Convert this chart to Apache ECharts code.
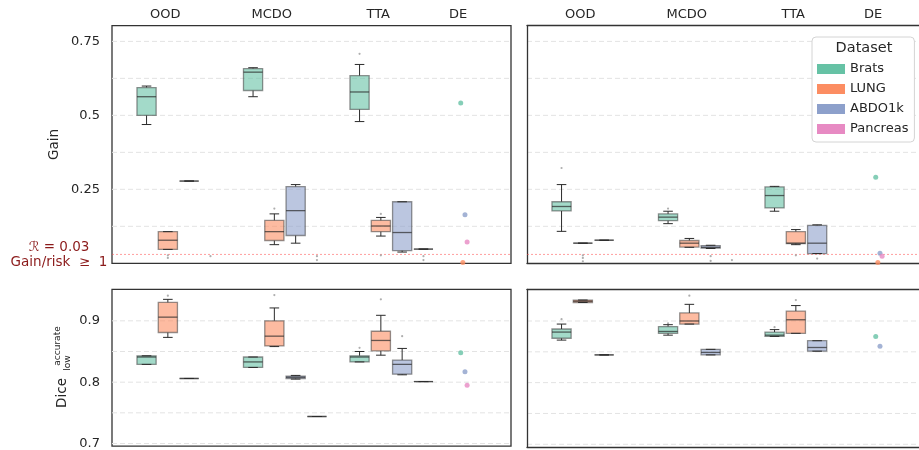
<!DOCTYPE html>
<html><head><meta charset="utf-8">
<script src="https://cdn.jsdelivr.net/npm/echarts@6/dist/echarts.min.js"></script>
<style>html,body{margin:0;padding:0;background:#fff}#c{width:919px;height:450px}</style>
</head><body><div id="c"></div><script>
// ---------- data ----------
const methods = ['OOD', 'MCDO', 'TTA', 'DE'];
const datasets = ['Brats', 'LUNG', 'ABDO1k', 'Pancreas'];
const colors = ['#66c2a5', '#fc8d62', '#8da0cb', '#e78ac3'];
const gainTicks = [0.25, 0.5, 0.75];
const diceTicks = [0.7, 0.8, 0.9];
const gainGridValues = [0.125, 0.25, 0.375, 0.5, 0.625, 0.75];
const diceGridValues = [0.7, 0.75, 0.8, 0.85, 0.9];
const riskThreshold = 0.03;

// box stats per method (OOD, MCDO, TTA): [low whisker, Q1, median, Q3, high whisker]
const gainA_Brats    = [[0.469, 0.500, 0.563, 0.594, 0.599], [0.563, 0.584, 0.646, 0.658, 0.661], [0.479, 0.520, 0.579, 0.634, 0.672]];
const gainA_LUNG     = [[0.047, 0.047, 0.078, 0.107, 0.107], [0.063, 0.077, 0.107, 0.145, 0.167], [0.092, 0.107, 0.126, 0.145, 0.155]];
const gainA_ABDO1k   = [[0.278, 0.278, 0.278, 0.278, 0.278], [0.068, 0.094, 0.178, 0.259, 0.266], [0.038, 0.043, 0.104, 0.208, 0.208]];
const gainA_Pancreas = [null, null, [0.048, 0.048, 0.048, 0.048, 0.048]];
const gainA_outliers = [
  [[2, 0.708]],
  [[0, 0.027], [0, 0.018], [1, 0.185], [2, 0.167], [2, 0.027]],
  [],
  [[0, 0.024], [1, 0.024], [1, 0.011], [2, 0.024], [2, 0.011]]
];
const gainA_DE = [0.542, 0.003, 0.164, 0.072];

const gainB_Brats    = [[0.108, 0.177, 0.192, 0.208, 0.266], [0.134, 0.144, 0.156, 0.167, 0.176], [0.176, 0.187, 0.229, 0.258, 0.260]];
const gainB_LUNG     = [[0.068, 0.068, 0.068, 0.068, 0.068], [0.054, 0.055, 0.068, 0.077, 0.084], [0.063, 0.067, 0.068, 0.107, 0.114]];
const gainB_ABDO1k   = [[0.078, 0.078, 0.078, 0.078, 0.078], [0.050, 0.051, 0.054, 0.060, 0.061], [0.033, 0.033, 0.068, 0.128, 0.130]];
const gainB_Pancreas = [null, null, null];
const gainB_outliers = [
  [[0, 0.322], [1, 0.185]],
  [[0, 0.027], [0, 0.018], [0, 0.007], [2, 0.027]],
  [[1, 0.024], [1, 0.008], [2, 0.016]],
  [[1, 0.011]]
];
const gainB_DE = [0.291, 0.003, 0.034, 0.024];

const diceA_Brats    = [[0.829, 0.829, 0.841, 0.843, 0.843], [0.824, 0.824, 0.833, 0.841, 0.841], [0.833, 0.833, 0.841, 0.843, 0.850]];
const diceA_LUNG     = [[0.873, 0.881, 0.906, 0.930, 0.935], [0.858, 0.859, 0.875, 0.900, 0.921], [0.844, 0.851, 0.868, 0.883, 0.909]];
const diceA_ABDO1k   = [[0.806, 0.806, 0.806, 0.806, 0.806], [0.805, 0.806, 0.808, 0.810, 0.811], [0.812, 0.813, 0.829, 0.836, 0.855]];
const diceA_Pancreas = [null, [0.744, 0.744, 0.744, 0.744, 0.744], [0.801, 0.801, 0.801, 0.801, 0.801]];
const diceA_outliers = [
  [[2, 0.856]],
  [[0, 0.941], [1, 0.942], [2, 0.935]],
  [[2, 0.875]],
  []
];
const diceA_DE = [0.848, null, 0.817, 0.795];

const diceB_Brats    = [[0.869, 0.872, 0.882, 0.887, 0.895], [0.877, 0.880, 0.883, 0.891, 0.894], [0.875, 0.875, 0.877, 0.882, 0.886]];
const diceB_LUNG     = [[0.930, 0.930, 0.932, 0.934, 0.934], [0.895, 0.895, 0.900, 0.913, 0.927], [0.880, 0.880, 0.902, 0.916, 0.925]];
const diceB_ABDO1k   = [[0.845, 0.845, 0.845, 0.845, 0.845], [0.845, 0.845, 0.849, 0.854, 0.854], [0.851, 0.851, 0.857, 0.868, 0.868]];
const diceB_Pancreas = [null, null, null];
const diceB_outliers = [
  [[0, 0.903], [1, 0.896], [2, 0.890]],
  [[1, 0.941], [2, 0.934]],
  [],
  []
];
const diceB_DE = [0.875, null, 0.859, null];

// ---------- layout constants ----------
const PX_PER_UNIT = 106.5;
const xMin = -0.6244;
const xMaxLeft = xMin + 399 / PX_PER_UNIT;
const xMaxRight = xMin + 392 / PX_PER_UNIT;   // right panels are cut by the page edge
const methodLabelX = [-0.125, 0.875, 1.875, 2.625];
const boxWidth = 0.18, hueStep = 0.2, deX = 2.65, deStep = 0.02;
const gainMin = 0, gainMax = 0.803;
const diceMin = 0.6956, diceMax = 0.9514;
const FONT = 'DejaVu Sans';
const TXT = '#262626';
const FRAME = {color: '#333', width: 1.3};

const panels = [
  {boxes: [gainA_Brats, gainA_LUNG, gainA_ABDO1k, gainA_Pancreas], outliers: gainA_outliers, de: gainA_DE, grid: gainGridValues, threshold: true},
  {boxes: [gainB_Brats, gainB_LUNG, gainB_ABDO1k, gainB_Pancreas], outliers: gainB_outliers, de: gainB_DE, grid: gainGridValues, threshold: true},
  {boxes: [diceA_Brats, diceA_LUNG, diceA_ABDO1k, diceA_Pancreas], outliers: diceA_outliers, de: diceA_DE, grid: diceGridValues, threshold: false},
  {boxes: [diceB_Brats, diceB_LUNG, diceB_ABDO1k, diceB_Pancreas], outliers: diceB_outliers, de: diceB_DE, grid: diceGridValues, threshold: false}
];

function hexToRgba(hex, a) {
  const n = parseInt(hex.slice(1), 16);
  return 'rgba(' + ((n >> 16) & 255) + ',' + ((n >> 8) & 255) + ',' + (n & 255) + ',' + a + ')';
}

function renderBox(params, api) {
  const x = api.value(0);
  const ys = [1, 2, 3, 4, 5].map(i => api.coord([x, api.value(i)])[1]);
  const cx = api.coord([x, api.value(3)])[0];
  const w = api.size([boxWidth, 0])[0];
  const fill = hexToRgba(api.visual('color'), 0.6);
  const [yLo, yQ1, yMed, yQ3, yHi] = ys;
  const wl = {stroke: '#2b2b2b', lineWidth: 1};
  return {type: 'group', children: [
    {type: 'line', shape: {x1: cx, y1: yQ1, x2: cx, y2: yLo}, style: wl},
    {type: 'line', shape: {x1: cx, y1: yQ3, x2: cx, y2: yHi}, style: wl},
    {type: 'rect', shape: {x: cx - w / 2, y: yQ3, width: w, height: yQ1 - yQ3}, style: {fill: fill, stroke: 'rgba(60,60,60,0.55)', lineWidth: 1.3}},
    {type: 'line', shape: {x1: cx - w / 2, y1: yMed, x2: cx + w / 2, y2: yMed}, style: {stroke: 'rgba(40,40,40,0.7)', lineWidth: 1.3}},
    {type: 'line', shape: {x1: cx - w / 4, y1: yLo, x2: cx + w / 4, y2: yLo}, style: wl},
    {type: 'line', shape: {x1: cx - w / 4, y1: yHi, x2: cx + w / 4, y2: yHi}, style: wl}
  ]};
}

function makeHLine(stroke, dash) {
  return function (params, api) {
    const y = api.coord([api.value(0), api.value(1)])[1];
    const cs = params.coordSys;
    return {type: 'line', shape: {x1: cs.x, y1: y, x2: cs.x + cs.width, y2: y}, style: {stroke: stroke, lineWidth: 1, lineDash: dash}};
  };
}

const series = [];
panels.forEach((p, pi) => {
  series.push({type: 'custom', name: 'grid' + pi, xAxisIndex: pi, yAxisIndex: pi, z: 0, silent: true,
    data: p.grid.map(v => [xMin, v]), renderItem: makeHLine('#e3e3e3', [5, 3])});
  if (p.threshold) {
    series.push({type: 'custom', name: 'threshold' + pi, xAxisIndex: pi, yAxisIndex: pi, z: 1, silent: true,
      data: [[xMin, riskThreshold]], renderItem: makeHLine('rgba(255,80,80,0.55)', [2, 2])});
  }
  datasets.forEach((name, h) => {
    const data = [];
    p.boxes[h].forEach((s, g) => { if (s) data.push([g + (h - 1.5) * hueStep].concat(s)); });
    series.push({type: 'custom', name: name, xAxisIndex: pi, yAxisIndex: pi, z: 3, silent: true,
      itemStyle: {color: colors[h]}, encode: {x: 0, y: [1, 2, 3, 4, 5]}, renderItem: renderBox, data: data});
    series.push({type: 'scatter', name: name + ' fliers', xAxisIndex: pi, yAxisIndex: pi, z: 2, silent: true,
      symbolSize: 2.2, itemStyle: {color: '#9a9a9a'}, clip: false,
      data: p.outliers[h].map(([g, v]) => [g + (h - 1.5) * hueStep, v])});
    if (p.de[h] != null) {
      series.push({type: 'scatter', name: name, xAxisIndex: pi, yAxisIndex: pi, z: 4, silent: true,
        symbolSize: 5, itemStyle: {color: colors[h]}, clip: false,
        data: [[deX + h * deStep, p.de[h]]]});
    }
  });
});

const grids = [
  {left: 112, top: 25.7, width: 399, height: 237.6, show: true},
  {left: 527, top: 25.7, width: 392, height: 237.6, show: false},
  {left: 112, top: 289.3, width: 399, height: 157.7, show: true},
  {left: 527, top: 289.3, width: 392, height: 157.7, show: false}
].map(g => Object.assign({borderColor: FRAME.color, borderWidth: FRAME.width, backgroundColor: 'transparent'}, g));

function xAxisFor(i, showLabels, isRight) {
  return {
    gridIndex: i, type: 'value', min: xMin, max: isRight ? xMaxRight : xMaxLeft, position: 'top',
    axisLine: {show: isRight, onZero: false, lineStyle: FRAME}, axisTick: {show: false}, splitLine: {show: false},
    axisLabel: {show: showLabels, customValues: methodLabelX, margin: 5, fontSize: 13, color: TXT, fontFamily: FONT,
      formatter: v => methods[methodLabelX.reduce((b, c, k) => Math.abs(c - v) < Math.abs(methodLabelX[b] - v) ? k : b, 0)]}
  };
}
function frameBottomAxis(i) {
  return {gridIndex: i, type: 'value', min: xMin, max: xMaxRight, position: 'bottom',
    axisLine: {show: true, onZero: false, lineStyle: FRAME}, axisTick: {show: false}, axisLabel: {show: false}, splitLine: {show: false}};
}

function yAxisFor(i, min, max, ticks, showLabels, withRisk, isRight) {
  const vals = withRisk ? [riskThreshold].concat(ticks) : ticks.slice();
  return {
    gridIndex: i, type: 'value', min: min, max: max, position: 'left',
    axisLine: {show: isRight, onZero: false, lineStyle: FRAME}, axisTick: {show: false}, splitLine: {show: false},
    axisLabel: {show: showLabels, customValues: vals, margin: 2, fontSize: 13, color: TXT, fontFamily: FONT,
      formatter: v => (withRisk && Math.abs(v - riskThreshold) < 1e-9)
        ? '{r1|\u211B = ' + riskThreshold + '}\n{r|Gain/risk  \u2265  1}'
        : '{n|' + String(+v.toFixed(4)) + '}',
      rich: {
        n: {fontSize: 13, color: TXT, fontFamily: FONT, padding: [0, 10, 0, 0]},
        r1: {fontSize: 13.5, color: '#8b1a1a', fontFamily: FONT, width: 102, align: 'center', lineHeight: 17, padding: [5, 0, 0, 0]},
        r: {fontSize: 13.5, color: '#8b1a1a', fontFamily: FONT, width: 102, align: 'center', lineHeight: 19}
      }}
  };
}

const option = {
  backgroundColor: '#ffffff',
  animation: false,
  grid: grids,
  xAxis: [xAxisFor(0, true, false), xAxisFor(1, true, true), xAxisFor(2, false, false), xAxisFor(3, false, true),
          frameBottomAxis(1), frameBottomAxis(3)],
  yAxis: [
    yAxisFor(0, gainMin, gainMax, gainTicks, true, true, false),
    yAxisFor(1, gainMin, gainMax, gainTicks, false, false, true),
    yAxisFor(2, diceMin, diceMax, diceTicks, true, false, false),
    yAxisFor(3, diceMin, diceMax, diceTicks, false, false, true)
  ],
  legend: {
    data: datasets, orient: 'vertical', left: 812, top: 37, icon: 'rect',
    itemWidth: 28, itemHeight: 10, itemGap: 4, padding: [24, 6, 5, 5],
    borderColor: '#d4d4d4', borderWidth: 1, borderRadius: 4, backgroundColor: '#ffffff',
    selectedMode: false, itemStyle: {borderWidth: 0},
    textStyle: {fontSize: 13, lineHeight: 16, color: TXT, fontFamily: FONT}
  },
  graphic: [
    {type: 'text', z: 100, x: 864, y: 48.5, style: {text: 'Dataset', fontSize: 14.5, fontFamily: FONT, fill: TXT, textAlign: 'center', textVerticalAlign: 'middle'}},
    {type: 'text', z: 100, x: 54, y: 144.5, rotation: Math.PI / 2, style: {text: 'Gain', fontSize: 13.5, fontFamily: FONT, fill: TXT, textAlign: 'center', textVerticalAlign: 'middle'}},
    {type: 'text', z: 100, x: 62.5, y: 393, rotation: Math.PI / 2, style: {text: 'Dice', fontSize: 13.5, fontFamily: FONT, fill: TXT, textAlign: 'center', textVerticalAlign: 'middle'}},
    {type: 'text', z: 100, x: 58, y: 346, rotation: Math.PI / 2, style: {text: 'accurate', fontSize: 9, fontFamily: FONT, fill: TXT, textAlign: 'center', textVerticalAlign: 'middle'}},
    {type: 'text', z: 100, x: 67.5, y: 363, rotation: Math.PI / 2, style: {text: 'low', fontSize: 9, fontFamily: FONT, fill: TXT, textAlign: 'center', textVerticalAlign: 'middle'}}
  ],
  series: series
};

const chart = echarts.init(document.getElementById('c'), null, {renderer: 'canvas'});
chart.setOption(option);
</script></body></html>
